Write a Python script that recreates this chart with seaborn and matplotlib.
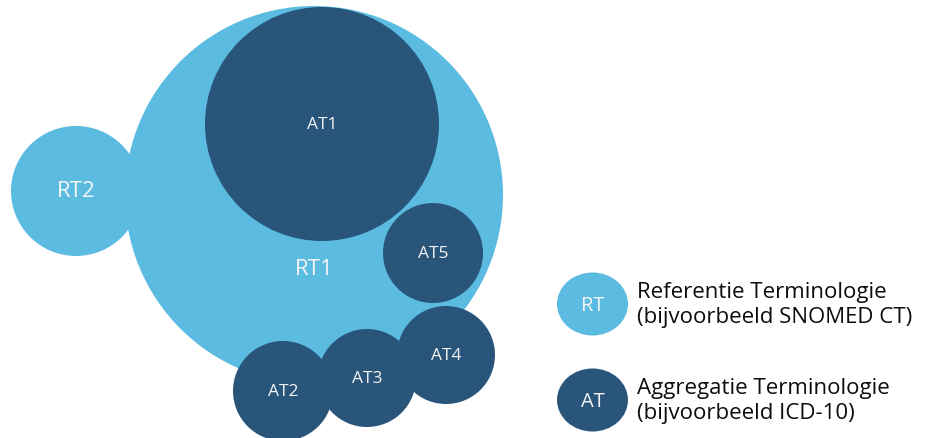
import seaborn as sns
import matplotlib.pyplot as plt
from matplotlib.patches import Circle, Ellipse

# circles: name, center x, center y, radius (pixel space of a 929x439 canvas)
names = ['RT1', 'RT2', 'AT1', 'AT5', 'AT2', 'AT3', 'AT4']
kinds = ['RT', 'RT', 'AT', 'AT', 'AT', 'AT', 'AT']
cx = [314, 76, 322, 433, 283, 367, 446]
cy = [196, 192, 125, 254, 392, 379, 356]
radius = [189, 65, 117, 50, 50, 49, 49]
label_dy = [74, 0, 0, 0, 0, 0, 0]

legend_keys = ['RT', 'AT']
legend_text = ['Referentie Terminologie\n(bijvoorbeeld SNOMED CT)',
               'Aggregatie Terminologie\n(bijvoorbeeld ICD-10)']
legend_y = [305, 401]

colors = {'RT': '#5bbbe1', 'AT': '#29557a'}

sns.set_theme(style='white')
plt.rcParams['font.family'] = ['Open Sans', 'DejaVu Sans']

fig = plt.figure(figsize=(9.29, 4.39), dpi=100)
ax = fig.add_axes([0, 0, 1, 1])
ax.set_xlim(0, 929)
ax.set_ylim(439, 0)
ax.set_aspect('equal')
ax.axis('off')

for n, k, x, y, r, dy in zip(names, kinds, cx, cy, radius, label_dy):
    ax.add_patch(Circle((x, y), r, color=colors[k], lw=0))
    fs = 16 if k == 'RT' else 12.5
    ax.text(x, y + dy, n, color='#f4f4f4', fontsize=fs, ha='center', va='center')

for k, t, y in zip(legend_keys, legend_text, legend_y):
    ax.add_patch(Ellipse((592.5, y), 71, 63, color=colors[k], lw=0))
    ax.text(592.5, y + 1, k, color='#f4f4f4', fontsize=14.5, ha='center', va='center')
    ax.text(637, y, t, color='#0d0d0d', fontsize=16, ha='left', va='center',
            linespacing=1.25)

fig.savefig('out.png', dpi=100)
